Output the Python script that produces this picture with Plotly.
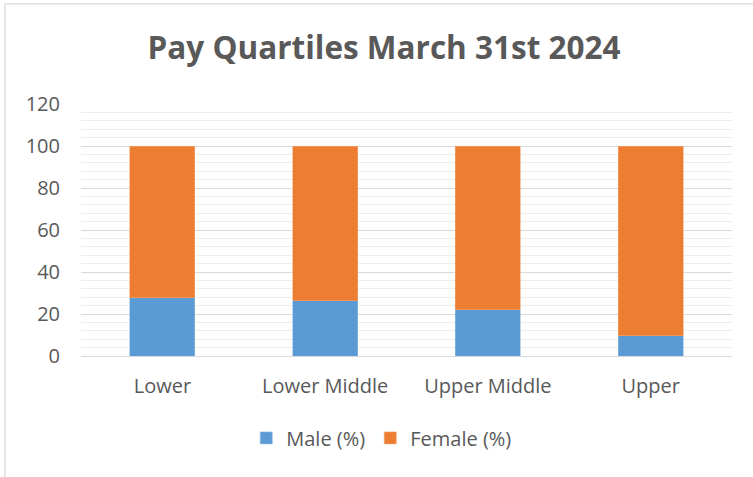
import plotly.graph_objects as go

categories = ["Lower", "Lower Middle", "Upper Middle", "Upper"]
male = [27.8, 26.2, 22.1, 9.7]
female = [72.2, 73.8, 77.9, 90.3]
title_text = "Pay Quartiles March 31st 2024"

font_family = "Open Sans"
text_color = "#595959"

fig = go.Figure()
fig.add_trace(go.Bar(name="Male (%)", x=categories, y=male, marker_color="#5B9BD5",
                     marker_line=dict(color="#8fbbe3", width=0.6)))
fig.add_trace(go.Bar(name="Female (%)", x=categories, y=female, marker_color="#ED7D31",
                     marker_line=dict(color="#f2a472", width=0.6)))

fig.update_layout(
    barmode="stack",
    bargap=0.6,
    width=753, height=477,
    margin=dict(l=81, r=21, t=104, b=121),
    paper_bgcolor="white", plot_bgcolor="white",
    font=dict(family=font_family, color=text_color, size=20),
    title=dict(text="<b>" + title_text + "</b>", x=0.51, xanchor="center", y=0.9, yanchor="middle",
               font=dict(size=31.5, color=text_color, family=font_family)),
    legend=dict(orientation="h", x=0.462, xanchor="center", y=-0.325, yanchor="middle",
                traceorder="normal",
                font=dict(size=20, color=text_color), itemwidth=30, tracegroupgap=0),
    showlegend=True,
)
fig.update_yaxes(range=[0, 120], dtick=20, showgrid=True, gridcolor="#d9d9d9", gridwidth=1.3,
                 zeroline=False, showline=False,
                 ticks="outside", ticklen=16, tickcolor="rgba(0,0,0,0)",
                 tickfont=dict(size=20, color=text_color),
                 minor=dict(dtick=4, showgrid=True, gridcolor="#eeeeee", gridwidth=1.3))
fig.update_xaxes(showline=True, linecolor="#d9d9d9", linewidth=1.3,
                 ticks="outside", ticklen=12, tickcolor="rgba(0,0,0,0)",
                 tickfont=dict(size=20, color=text_color))

fig.add_shape(type="rect", xref="paper", yref="paper", x0=-0.1167, x1=1.2, y0=-0.7, y1=1.397,
              line=dict(color="#d9d9d9", width=1.3), fillcolor="rgba(0,0,0,0)", layer="below")

fig.write_html("out.html", config={"displayModeBar": False},
               post_script="document.body.style.margin='0px';")
